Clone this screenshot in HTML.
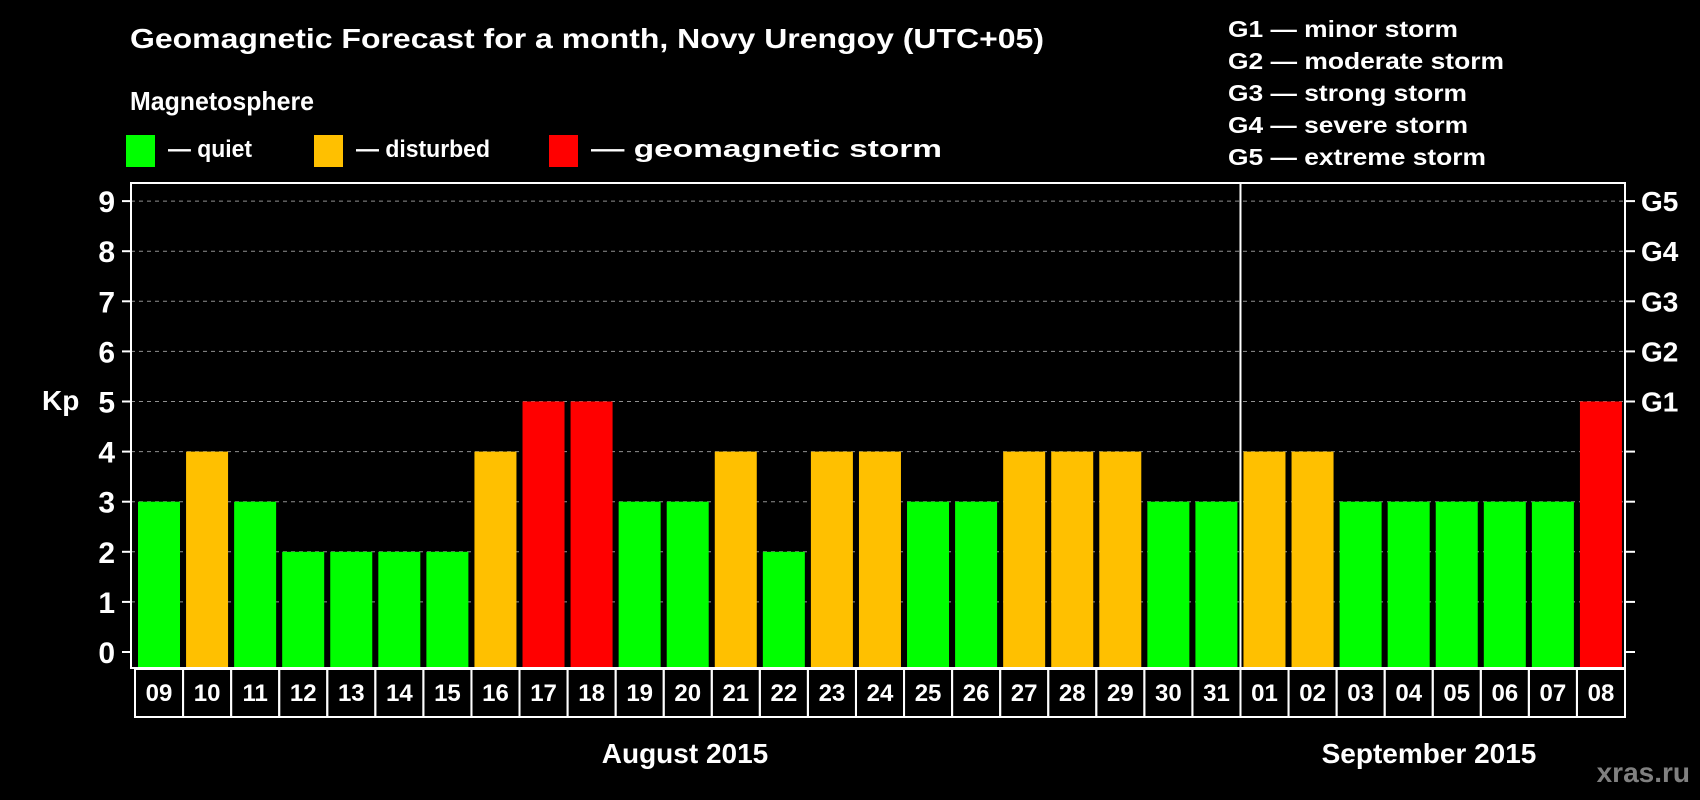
<!DOCTYPE html>
<html><head><meta charset="utf-8"><style>
html,body{margin:0;padding:0;background:#000;width:1700px;height:800px;overflow:hidden}
svg{display:block;font-family:"Liberation Sans",Arial,sans-serif;font-weight:bold}
</style></head><body>
<svg id="chart" width="1700" height="800" viewBox="0 0 1700 800">
<rect width="1700" height="800" fill="#000"/>
<text x="130" y="48" font-size="28" fill="#fff" textLength="914" lengthAdjust="spacingAndGlyphs">Geomagnetic Forecast for a month, Novy Urengoy (UTC+05)</text>
<text x="130" y="110" font-size="26" fill="#fff" textLength="184" lengthAdjust="spacingAndGlyphs">Magnetosphere</text>
<g><rect x="126" y="135" width="29" height="32" fill="#00ff00"/><text x="168" y="157" font-size="24" fill="#fff" textLength="84" lengthAdjust="spacingAndGlyphs">— quiet</text></g>
<g><rect x="314" y="135" width="29" height="32" fill="#ffc000"/><text x="356" y="157" font-size="24" fill="#fff" textLength="134" lengthAdjust="spacingAndGlyphs">— disturbed</text></g>
<g><rect x="549" y="135" width="29" height="32" fill="#ff0000"/><text x="591" y="157" font-size="24" fill="#fff" textLength="351" lengthAdjust="spacingAndGlyphs">— geomagnetic storm</text></g>
<g fill="#fff" font-size="23">
<text x="1228" y="37" textLength="230" lengthAdjust="spacingAndGlyphs">G1 — minor storm</text>
<text x="1228" y="69" textLength="276" lengthAdjust="spacingAndGlyphs">G2 — moderate storm</text>
<text x="1228" y="101" textLength="239" lengthAdjust="spacingAndGlyphs">G3 — strong storm</text>
<text x="1228" y="133" textLength="240" lengthAdjust="spacingAndGlyphs">G4 — severe storm</text>
<text x="1228" y="165" textLength="258" lengthAdjust="spacingAndGlyphs">G5 — extreme storm</text>
</g>
<text x="42" y="410" font-size="28" fill="#fff">Kp</text>
<text x="685" y="763" font-size="28" fill="#fff" text-anchor="middle">August 2015</text>
<text x="1429" y="763" font-size="28" fill="#fff" text-anchor="middle">September 2015</text>
<text x="1690" y="782" font-size="28" fill="#808080" text-anchor="end">xras.ru</text>
<g id="plot"></g>
</svg>
<script>
const days = ["09","10","11","12","13","14","15","16","17","18","19","20","21","22","23","24","25","26","27","28","29","30","31","01","02","03","04","05","06","07","08"];
const kpValues = [3,4,3,2,2,2,2,4,5,5,3,3,4,2,4,4,3,3,4,4,4,3,3,4,4,3,3,3,3,3,5];
const yTicks = [0,1,2,3,4,5,6,7,8,9];
const gLabels = ["G1","G2","G3","G4","G5"];
const gLevels = [5,6,7,8,9];
const monthBreakIndex = 23;

const NS = "http://www.w3.org/2000/svg";
const plot = document.getElementById("plot");
const L = 131, R = 1625, T = 183, B = 668;
const cellX0 = 135, cellW = (R - cellX0) / days.length;
const y = v => 652 - v * 50.1;
const xCell = i => cellX0 + i * cellW;
function mk(tag, attrs, parent) {
  const e = document.createElementNS(NS, tag);
  for (const k in attrs) e.setAttribute(k, attrs[k]);
  (parent || plot).appendChild(e);
  return e;
}
function color(v) { return v >= 5 ? "#ff0000" : (v >= 4 ? "#ffc000" : "#00ff00"); }

// gridlines
yTicks.forEach(v => {
  if (v > 0) {
    const g = mk("line", {x1: L, x2: R, y1: y(v), y2: y(v), stroke: "#909090", "stroke-width": 1, "stroke-dasharray": "4,4"});
    
    
  }
  const t = mk("line", {x1: L - 9, x2: L, y1: y(v), y2: y(v), stroke: "#fff", "stroke-width": 2});
  
  
  const t2 = mk("line", {x1: R, x2: R + 10, y1: y(v), y2: y(v), stroke: "#fff", "stroke-width": 2});
  
  
  const lbl = mk("text", {x: 115, y: y(v) + 11, "font-size": 30, fill: "#fff", "text-anchor": "end"});
  lbl.textContent = v;
  
  
});
gLabels.forEach((g, i) => {
  const t = mk("text", {x: 1641, y: y(gLevels[i]) + 10, "font-size": 28, fill: "#fff"});
  t.textContent = g;
  
  
});
// bars
kpValues.forEach((v, i) => {
  const b = mk("rect", {x: xCell(i) + 3, y: y(v), width: 42, height: B - y(v), fill: color(v)});
  
  
});
// frame
const f = mk("rect", {x: L, y: T, width: R - L, height: B - T, fill: "none", stroke: "#fff", "stroke-width": 2});


const sep = mk("line", {x1: xCell(monthBreakIndex), x2: xCell(monthBreakIndex), y1: T, y2: B, stroke: "#fff", "stroke-width": 2});


// date cells
days.forEach((d, i) => {
  const c = mk("rect", {x: xCell(i), y: 669, width: cellW, height: 48, fill: "none", stroke: "#fff", "stroke-width": 2});
  
  
  const t = mk("text", {x: xCell(i) + cellW / 2, y: 701, "font-size": 24, fill: "#fff", "text-anchor": "middle"});
  t.textContent = d;
  
  
});
</script>
</body></html>
